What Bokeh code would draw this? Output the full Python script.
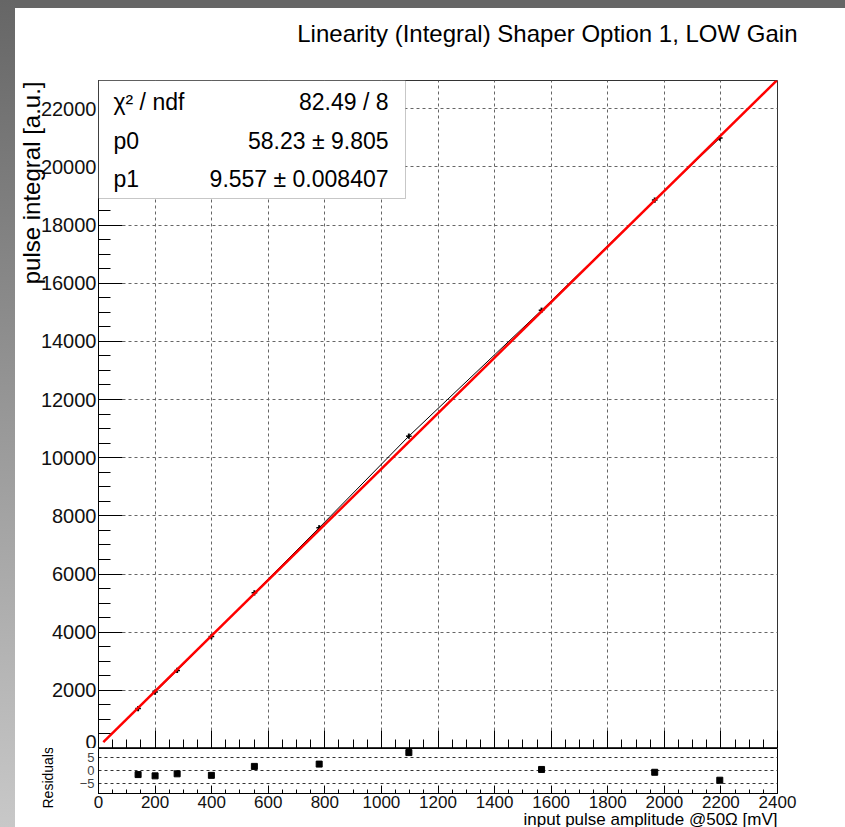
from bokeh.plotting import figure
from bokeh.models import Label, BoxAnnotation, FixedTicker, Range1d, Spacer, Title
from bokeh.layouts import column, row
from bokeh.embed import file_html
from bokeh.resources import INLINE

# ---- texts ----
title_text = "Linearity (Integral) Shaper Option 1, LOW Gain"
x_title = "input pulse amplitude @50\u03a9 [mV]"
y_title = "pulse integral [a.u.]"
res_title = "Residuals"

# ---- data ----
amplitude = [140, 200, 278, 399, 551, 780, 1097, 1566, 1966, 2196]
integral = [1375, 1940, 2685, 3850, 5355, 7590, 10740, 15070, 18860, 20990]
integral_err = [90, 90, 90, 90, 90, 90, 90, 90, 90, 90]
amplitude_err = [10, 10, 10, 10, 10, 10, 10, 10, 10, 10]
residuals = [-1.6, -2.1, -1.3, -1.9, 1.6, 2.5, 7.0, 0.4, -0.7, -3.8]

# ---- fit result ----
chi2 = 82.49
ndf = 8
p0, p0_err = 58.23, 9.805
p1, p1_err = 9.557, 0.008407
fit_x = [17, 2400]
fit_y = [p0 + p1 * v for v in fit_x]

x_ticks = list(range(0, 2401, 200))
x_minor = list(range(0, 2401, 50))
y_ticks = list(range(0, 22001, 2000))
y_minor = list(range(0, 22501, 500))
res_ticks = [-5, 0, 5]

FONT = "Liberation Sans"

p = figure(width=830, height=740, x_range=Range1d(0, 2400), y_range=Range1d(0, 22970),
           output_backend="svg", toolbar_location=None, title=None,
           min_border_left=83, min_border_right=68, min_border_top=72, min_border_bottom=0)
p.outline_line_color = "#333333"
p.border_fill_color = "white"
p.background_fill_color = "white"

# white (invisible on white) spacer title next to the frame, then the real title above it
p.add_layout(Title(text="|", text_font_size="10px", standoff=21, text_color="white"), "above")
p.add_layout(Title(text=title_text, align="right", offset=-20, standoff=0,
                   text_font=FONT, text_font_size="24px", text_font_style="normal",
                   text_color="black"), "above")

p.xaxis.ticker = FixedTicker(ticks=x_ticks, minor_ticks=x_minor)
p.yaxis.ticker = FixedTicker(ticks=y_ticks, minor_ticks=y_minor)
p.xaxis.major_label_text_font_size = "0px"
p.xaxis.major_label_standoff = 0
p.xaxis.major_tick_in = 18
p.xaxis.major_tick_out = 0
p.xaxis.minor_tick_in = 9
p.xaxis.minor_tick_out = 0
p.yaxis.major_tick_in = 24
p.yaxis.major_tick_out = 0
p.yaxis.minor_tick_in = 12
p.yaxis.minor_tick_out = 0
p.yaxis.major_label_text_font = FONT
p.yaxis.major_label_text_font_size = "20px"
p.yaxis.major_label_text_color = "#111111"
p.yaxis.major_label_standoff = 2
p.axis.axis_line_color = "black"
p.axis.major_tick_line_color = "black"
p.axis.minor_tick_line_color = "black"
p.grid.grid_line_color = "#666666"
p.grid.grid_line_dash = "3 3"
p.grid.grid_line_width = 1

p.add_layout(Title(text=y_title, align="right", offset=1, standoff=-14,
                   text_font=FONT, text_font_size="24px", text_font_style="normal",
                   text_color="black"), "left")

# graph line and points
p.line(amplitude, integral, line_color="black", line_width=1)
p.segment(x0=amplitude, x1=amplitude,
          y0=[v - e for v, e in zip(integral, integral_err)],
          y1=[v + e for v, e in zip(integral, integral_err)],
          line_color="black", line_width=2)
p.segment(x0=[a - e for a, e in zip(amplitude, amplitude_err)],
          x1=[a + e for a, e in zip(amplitude, amplitude_err)],
          y0=integral, y1=integral, line_color="black", line_width=1.5)
# fit
p.line(fit_x, fit_y, line_color="#ff0000", line_width=2.5)

# stats box
box = BoxAnnotation(left=0, right=307, top=668, bottom=550,
                    left_units="screen", right_units="screen",
                    top_units="screen", bottom_units="screen",
                    fill_color="white", fill_alpha=1.0,
                    line_color="#444444", line_width=1, level="overlay")
p.add_layout(box)

rows = [("\u03c7\u00b2 / ndf", f"{chi2:.2f} / {ndf}", 647),
        ("p0", f"{p0:.2f} \u00b1 {p0_err}", 608),
        ("p1", f"{p1:.3f} \u00b1 {p1_err}", 570)]
for left_t, right_t, yy in rows:
    p.add_layout(Label(x=15, y=yy, x_units="screen", y_units="screen", text=left_t,
                       text_font=FONT, text_font_size="23px", text_color="black",
                       text_align="left", text_baseline="alphabetic", level="overlay"))
    p.add_layout(Label(x=290, y=yy, x_units="screen", y_units="screen", text=right_t,
                       text_font=FONT, text_font_size="23px", text_color="black",
                       text_align="right", text_baseline="alphabetic", level="overlay"))

# residual panel
r = figure(width=830, height=79, x_range=p.x_range, y_range=Range1d(-9, 8.6),
           output_backend="svg", toolbar_location=None,
           min_border_left=83, min_border_right=68, min_border_top=0, min_border_bottom=34)
r.outline_line_color = "black"
r.border_fill_color = "white"
r.scatter(amplitude, residuals, marker="square", size=6, color="black")
r.xgrid.visible = False
r.xaxis.ticker = FixedTicker(ticks=x_ticks, minor_ticks=x_minor)
r.yaxis.ticker = FixedTicker(ticks=res_ticks, minor_ticks=[])
r.ygrid.ticker = FixedTicker(ticks=res_ticks)
r.ygrid.grid_line_color = "#333333"
r.ygrid.grid_line_dash = "3 3"
r.xaxis.major_tick_in = 8
r.xaxis.major_tick_out = 0
r.xaxis.minor_tick_in = 4
r.xaxis.minor_tick_out = 0
r.xaxis.major_label_text_font = FONT
r.xaxis.major_label_text_font_size = "17px"
r.xaxis.major_label_text_color = "#111111"
r.xaxis.major_label_standoff = 2
r.yaxis.major_tick_in = 0
r.yaxis.major_tick_out = 0
r.yaxis.minor_tick_in = 0
r.yaxis.minor_tick_out = 0
r.yaxis.major_label_text_font = FONT
r.yaxis.major_label_text_font_size = "13px"
r.yaxis.major_label_text_color = "#444444"
r.yaxis.major_label_standoff = 4
r.yaxis.major_label_overrides = {-5: "\u22125", 0: "0", 5: "5"}
r.axis.axis_line_color = "black"
r.add_layout(Title(text=x_title, align="right", offset=0, standoff=-6,
                   text_font=FONT, text_font_size="17px", text_font_style="normal",
                   text_color="black"), "below")
r.add_layout(Title(text=res_title, align="left", offset=-15, standoff=41,
                   text_font=FONT, text_font_size="14px", text_font_style="normal",
                   text_color="black"), "left")

layout = row(Spacer(width=15, height=827,
                    styles={"background": "linear-gradient(to bottom, #666666 0%, #c8c8c8 100%)"}),
             column(Spacer(width=830, height=8, styles={"background": "#666666"}), p, r,
                    styles={"background": "white"}),
             styles={"background": "white"})

open("out.html", "w").write(file_html(layout, INLINE))
